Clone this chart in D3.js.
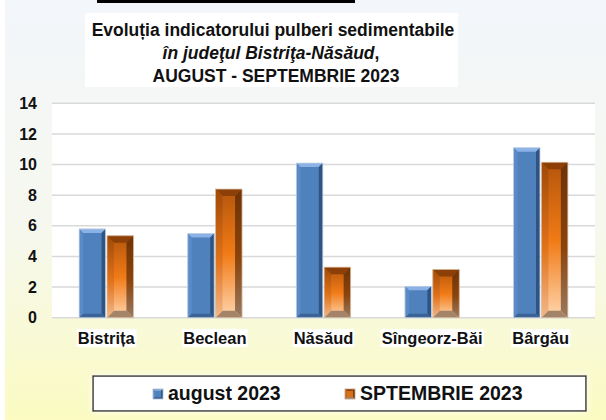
<!DOCTYPE html>
<html>
<head>
<meta charset="utf-8">
<script src="https://cdn.jsdelivr.net/npm/d3@7"></script>
<style>
  body { margin: 0; background: #fff; }
  svg { display: block; font-family: "Liberation Sans", Arial, sans-serif; }
</style>
</head>
<body>
<div id="chart"></div>
<script>
// data
const categories = ["Bistrița", "Beclean", "Năsăud", "Sîngeorz-Băi", "Bârgău"];
const seriesNames = ["august 2023", "SPTEMBRIE 2023"];
const augustValues = [5.8, 5.5, 10.1, 2.05, 11.1];
const septValues = [5.35, 8.4, 3.3, 3.15, 10.15];
const yTicks = [0, 2, 4, 6, 8, 10, 12, 14];

const W = 606, H = 420;
const margin = {top: 103, right: 11, bottom: 102, left: 52};

const svg = d3.select("#chart").append("svg")
    .attr("width", W)
    .attr("height", H);

const defs = svg.append("defs");

// page background: bluish white to pale yellow
let bg = defs.append("linearGradient").attr("id", "bg")
    .attr("x1", 0).attr("y1", 0).attr("x2", 0).attr("y2", 1);
bg.append("stop").attr("offset", "0%").attr("stop-color", "#f3f6fb");
bg.append("stop").attr("offset", "55%").attr("stop-color", "#f6f8ee");
bg.append("stop").attr("offset", "100%").attr("stop-color", "#fbfbc2");

// orange face gradient
let og = defs.append("linearGradient").attr("id", "orangeFace")
    .attr("x1", 0).attr("y1", 0).attr("x2", 0).attr("y2", 1);
og.append("stop").attr("offset", "0%").attr("stop-color", "#b4560c");
og.append("stop").attr("offset", "50%").attr("stop-color", "#f07a16");
og.append("stop").attr("offset", "100%").attr("stop-color", "#ffd6ae");

let ol = defs.append("linearGradient").attr("id", "orangeLeft")
    .attr("x1", 0).attr("y1", 0).attr("x2", 0).attr("y2", 1);
ol.append("stop").attr("offset", "0%").attr("stop-color", "#a04a08");
ol.append("stop").attr("offset", "55%").attr("stop-color", "#e0721a");
ol.append("stop").attr("offset", "100%").attr("stop-color", "#f2b88a");

let orr = defs.append("linearGradient").attr("id", "orangeRight")
    .attr("x1", 0).attr("y1", 0).attr("x2", 0).attr("y2", 1);
orr.append("stop").attr("offset", "0%").attr("stop-color", "#6e3205");
orr.append("stop").attr("offset", "55%").attr("stop-color", "#8a440c");
orr.append("stop").attr("offset", "100%").attr("stop-color", "#9a7a62");

let glow = defs.append("filter").attr("id", "glow")
    .attr("x", "-10%").attr("y", "-50%").attr("width", "120%").attr("height", "200%");
glow.append("feGaussianBlur").attr("in", "SourceAlpha").attr("stdDeviation", 3).attr("result", "b");
glow.append("feFlood").attr("flood-color", "#ffffff").attr("flood-opacity", 0.9);
glow.append("feComposite").attr("in2", "b").attr("operator", "in").attr("result", "s");
let mrg = glow.append("feMerge");
mrg.append("feMergeNode").attr("in", "s");
mrg.append("feMergeNode").attr("in", "SourceGraphic");

svg.append("rect").attr("x", 5).attr("y", 0).attr("width", W - 5).attr("height", H)
    .attr("fill", "url(#bg)");

// title box + black strip at the very top
svg.append("rect").attr("x", 85).attr("y", 13).attr("width", 373).attr("height", 74).attr("fill", "#fff");
svg.append("rect").attr("x", 97).attr("y", 0).attr("width", 258).attr("height", 3).attr("fill", "#000");

const title = svg.append("text").attr("text-anchor", "middle")
    .attr("font-size", "17.5px").attr("font-weight", "bold").attr("fill", "#111");
title.append("tspan").attr("x", 273).attr("y", 36).text("Evoluția indicatorului pulberi sedimentabile");
title.append("tspan").attr("x", 271).attr("y", 59).attr("font-style", "italic")
    .text("în judeţul Bistriţa-Năsăud").append("tspan").attr("font-style", "normal").text(",");
title.append("tspan").attr("x", 276).attr("y", 82).text("AUGUST - SEPTEMBRIE 2023");

// plot area
const plotW = W - margin.left - margin.right;
const x0 = d3.scaleBand().domain(categories)
    .range([margin.left, W - margin.right])
    .paddingInner(0.5).paddingOuter(0.25);
const x1 = d3.scaleBand().domain(seriesNames).range([0, x0.bandwidth()]).paddingInner(0.05);
const y = d3.scaleLinear().domain([0, 14]).range([317.7, 103.3]);

svg.append("rect").attr("x", margin.left).attr("y", y(14)).attr("width", plotW)
    .attr("height", y(0) - y(14)).attr("fill", "#fff");

svg.append("g").selectAll("line").data(yTicks).join("line")
    .attr("x1", margin.left).attr("x2", W - margin.right)
    .attr("y1", d => y(d)).attr("y2", d => y(d))
    .attr("stroke", "#d9d9d9").attr("stroke-width", 1.5);

// y axis labels
const yAxis = svg.append("g").attr("transform", "translate(42,0)")
    .call(d3.axisLeft(y).tickValues(yTicks).tickSize(0).tickPadding(5));
yAxis.select(".domain").remove();
yAxis.selectAll("text").attr("font-size", "16px").attr("font-weight", "bold")
    .attr("fill", "#111").style("font-family", "Liberation Sans, Arial, sans-serif");

// category labels with white backing
const catG = svg.append("g");
categories.forEach(c => {
    let cx = x0(c) + x0.bandwidth() / 2;
    let t = catG.append("text").attr("x", cx).attr("y", 344).attr("text-anchor", "middle")
        .attr("font-size", "16.5px").attr("font-weight", "bold").attr("fill", "#111").text(c);
    let bb = t.node().getBBox();
    catG.insert("rect", "text").attr("x", bb.x - 1).attr("y", bb.y).attr("width", bb.width + 2)
        .attr("height", bb.height).attr("fill", "#fff");
});

// beveled bar helper
function bevelBar(g, bx, by, bw, bh, style) {
    let b = Math.min(style.bevel, bw / 2, bh / 2);
    let x2 = bx + bw, y2 = by + bh;
    g.append("rect").attr("x", bx).attr("y", by).attr("width", bw).attr("height", bh)
        .attr("fill", style.face);
    const poly = pts => pts.map(p => p.join(",")).join(" ");
    g.append("polygon").attr("points", poly([[bx, by], [x2, by], [x2 - b, by + b], [bx + b, by + b]]))
        .attr("fill", style.top);
    g.append("polygon").attr("points", poly([[bx, by], [bx + b, by + b], [bx + b, y2 - b], [bx, y2]]))
        .attr("fill", style.left);
    g.append("polygon").attr("points", poly([[x2, by], [x2, y2], [x2 - b, y2 - b], [x2 - b, by + b]]))
        .attr("fill", style.right);
    g.append("polygon").attr("points", poly([[bx, y2], [bx + b, y2 - b], [x2 - b, y2 - b], [x2, y2]]))
        .attr("fill", style.bottom);
    g.append("rect").attr("x", bx).attr("y", by).attr("width", bw).attr("height", bh)
        .attr("fill", "none").attr("stroke", style.edge).attr("stroke-width", 0.8);
}

const styles = [
    {face: "#4f81bd", top: "#8ab2e6", left: "#5a8bc8", right: "#2f5382", bottom: "#3b6396",
     edge: "#c8d4e2", bevel: 4},
    {face: "url(#orangeFace)", top: "#8c3f06", left: "url(#orangeLeft)", right: "url(#orangeRight)",
     bottom: "#a48468", edge: "#d8c0a8", bevel: 7}
];
const allSeries = [augustValues, septValues];

const barsG = svg.append("g");
categories.forEach((c, i) => {
    allSeries.forEach((vals, s) => {
        let bx = x0(c) + x1(seriesNames[s]);
        let by = y(vals[i]);
        bevelBar(barsG, bx, by, x1.bandwidth(), y(0) - by, styles[s]);
    });
});

// legend
const lg = svg.append("g");
lg.append("rect").attr("x", 93).attr("y", 376).attr("width", 493).attr("height", 35)
    .attr("fill", "#fff").attr("stroke", "#333").attr("stroke-width", 1.5).attr("filter", "url(#glow)");
const legendX = [153, 345];
seriesNames.forEach((n, s) => {
    let sw = lg.append("g");
    bevelBar(sw, legendX[s], 389, 10, 10,
        s === 0 ? {face: "#4f81bd", top: "#7aa3d6", left: "#5a8bc8", right: "#2f5382", bottom: "#3b6396", edge: "#aabbd0", bevel: 2}
                : {face: "#d4731a", top: "#8c3f06", left: "#c86a18", right: "#7a3c08", bottom: "#a48468", edge: "#c0a080", bevel: 2});
    lg.append("text").attr("x", legendX[s] + 15).attr("y", 400)
        .attr("font-size", "19.5px").attr("font-weight", "bold").attr("fill", "#111").text(n);
});
</script>
</body>
</html>
